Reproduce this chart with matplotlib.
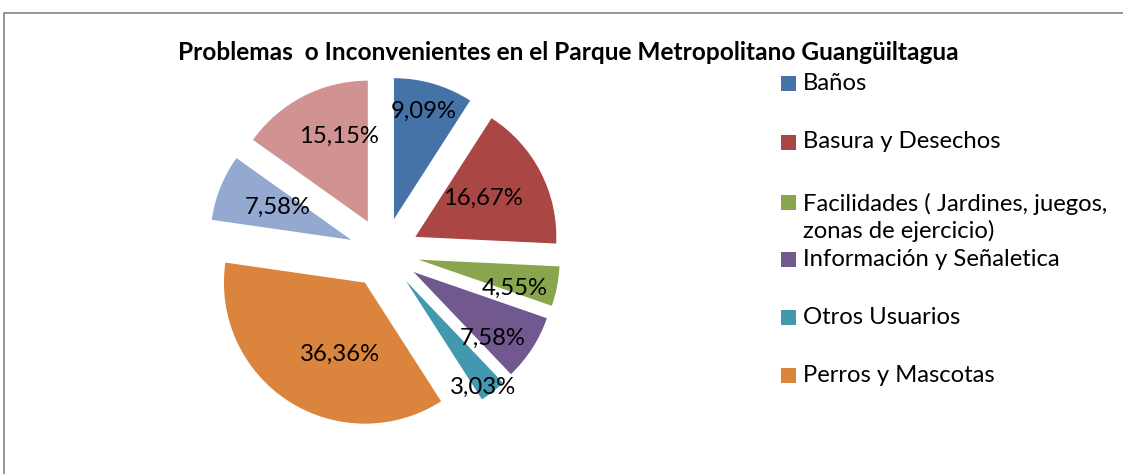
import numpy as np
import matplotlib.pyplot as plt
from matplotlib.patches import Rectangle

plt.rcParams['font.family'] = ['Lato', 'DejaVu Sans']

titulo = "Problemas  o Inconvenientes en el Parque Metropolitano Guangüiltagua"
categorias = ["Baños", "Basura y Desechos",
              "Facilidades ( Jardines, juegos,\nzonas de ejercicio)",
              "Información y Señaletica", "Otros Usuarios", "Perros y Mascotas"]
porcentajes = [9.09, 16.67, 4.55, 7.58, 3.03, 36.36, 7.58, 15.15]
colores = ["#4572A7", "#AA4643", "#89A54E", "#71588F", "#4198AF",
           "#DB843D", "#93A9CF", "#D19392"]

# where each % label sits: distance from wedge centre (radius units), angular nudge (deg)
dist_etiqueta = [0.79, 0.55, 0.71, 0.73, 0.93, 0.54, 0.57, 0.64]
giro_etiqueta = [0.9, 2.5, -5.6, -7.0, -2.2, 13.7, -2.3, -8.7]

# legend rows, pixel y from the top of the image
leyenda_y = [83, 142, 202, 259, 317, 375]

W, H = 1123, 474
fig = plt.figure(figsize=(W / 100, H / 100), dpi=100)

R = 141.0
ax = fig.add_axes([(384 - 200) / W, (H - 253 - 200) / H, 400 / W, 400 / H])
wedges, _ = ax.pie(porcentajes, colors=colores, startangle=90, counterclock=False,
                   explode=[0.25] * len(porcentajes), radius=1,
                   wedgeprops=dict(linewidth=0))
lim = 200 / R
ax.set_xlim(-lim, lim)
ax.set_ylim(-lim, lim)

for w, v, d, g in zip(wedges, porcentajes, dist_etiqueta, giro_etiqueta):
    ang = np.deg2rad((w.theta1 + w.theta2) / 2 + g)
    cx, cy = w.center
    ax.text(cx + d * np.cos(ang), cy + d * np.sin(ang),
            f"{v:.2f}%".replace(".", ","), ha="center", va="center",
            fontsize=17.2, color="black")

fig.text(568 / W, 1 - 53 / H, titulo, ha="center", va="center",
         fontsize=17.6, fontweight="bold")

for nombre, col, y in zip(categorias, colores, leyenda_y):
    fig.patches.append(Rectangle((781 / W, 1 - (y + 7.5) / H), 15 / W, 15 / H,
                                 transform=fig.transFigure, facecolor=col,
                                 edgecolor="none"))
    n = nombre.count("\n")
    fig.text(803 / W, 1 - (y + n * 15.5) / H, nombre, ha="left", va="center",
             fontsize=17.2, linespacing=1.25)

fig.patches.append(Rectangle((4 / W, -0.1), 1.2, (H - 13) / H + 0.1,
                             transform=fig.transFigure, fill=False,
                             edgecolor="#8c8c8c", linewidth=1.3))

fig.savefig("out.png", dpi=100)
